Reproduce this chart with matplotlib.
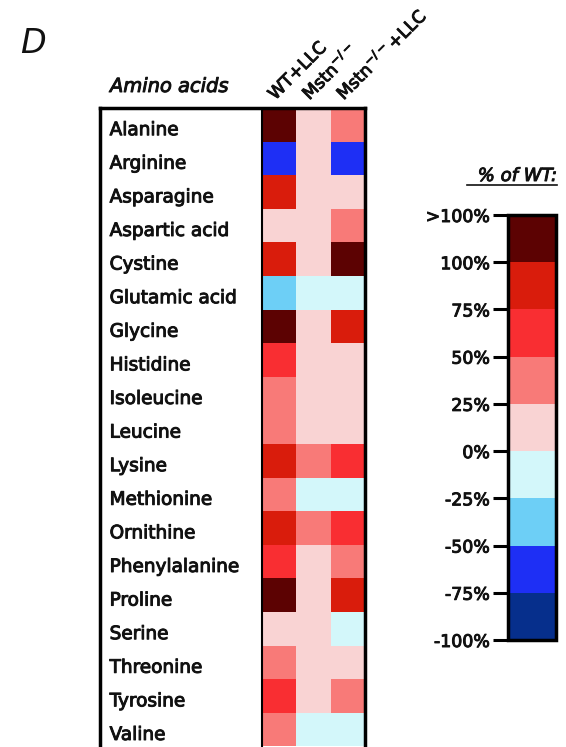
import numpy as np
import matplotlib
matplotlib.use("Agg")
import matplotlib.pyplot as plt
import matplotlib.patheffects as pe
from matplotlib.colors import ListedColormap, BoundaryNorm
from matplotlib.lines import Line2D

amino_acids = ["Alanine", "Arginine", "Asparagine", "Aspartic acid", "Cystine",
               "Glutamic acid", "Glycine", "Histidine", "Isoleucine", "Leucine",
               "Lysine", "Methionine", "Ornithine", "Phenylalanine", "Proline",
               "Serine", "Threonine", "Tyrosine", "Valine"]
groups = ["WT+LLC", r"Mstn$^{\mathregular{-/-}}$", r"Mstn$^{\mathregular{-/-}}$+LLC"]

# % of WT (binned reading of the heatmap colors)
wt_llc   = [110, -60, 85, 10, 85, -30, 110, 60, 35, 35, 85, 35, 85, 60, 110, 10, 35, 60, 35]
mstn     = [10, 10, 10, 10, 10, -10, 10, 10, 10, 10, 35, -10, 35, 10, 10, 10, 10, 10, -10]
mstn_llc = [35, -60, 10, 35, 110, -10, 85, 10, 10, 10, 60, -10, 60, 35, 85, -10, 10, 35, -10]

bounds = [-100, -75, -50, -25, 0, 25, 50, 75, 100, 125]
tick_labels = ["-100%", "-75%", "-50%", "-25%", "0%", "25%", "50%", "75%", "100%", ">100%"]
colors = ["#062f8c", "#1e2ff5", "#6dcff6", "#d3f7fa", "#f9d3d3",
          "#f87a78", "#f92e32", "#d91c0c", "#5c0202"]

W, H = 566, 747
fig = plt.figure(figsize=(W / 100, H / 100), dpi=100)
fig.patch.set_facecolor("white")

TXT = "#111111"
thick = [pe.withStroke(linewidth=0.7, foreground=TXT)]

def px(x0, y0, x1, y1):
    return [x0 / W, 1 - y1 / H, (x1 - x0) / W, (y1 - y0) / H]

cmap = ListedColormap(colors)
norm = BoundaryNorm(bounds, cmap.N)

data = np.array([wt_llc, mstn, mstn_llc]).T
n = len(amino_acids)

left, split, right = 100, 262, 365
colw = (right - split) / 3
top = 108
rowh = 33.6
ybot_lim = 19.5
ax = fig.add_axes(px(left, top, right, top + rowh * ybot_lim))
ax.pcolormesh(np.arange(4), np.arange(n + 1), data, cmap=cmap, norm=norm)
ax.set_xlim(-(split - left) / colw, 3)
ax.set_ylim(ybot_lim, 0)
ax.set_xticks([]); ax.set_yticks([])
for s in ax.spines.values():
    s.set_linewidth(2.5)
ax.axvline(0, color="black", lw=1.5)
for i, name in enumerate(amino_acids):
    ax.text(-(split - left) / colw + 0.28, i + 0.66, name, ha="left", va="center",
            fontsize=13.3, color=TXT, path_effects=thick)
for j, g in enumerate(groups):
    ax.text(j + 0.38, -0.22, g, rotation=45, rotation_mode="anchor",
            ha="left", va="baseline", fontsize=12.5, color=TXT, clip_on=False,
            path_effects=thick)

fig.text(110 / W, 1 - 92 / H, "Amino acids", fontsize=14, style="italic",
         ha="left", va="baseline", color=TXT, path_effects=thick)
fig.text(20 / W, 1 - 53 / H, "D", fontsize=24, style="italic", ha="left",
         va="baseline", color=TXT)

cax = fig.add_axes(px(508, 215, 556, 640))
sm = matplotlib.cm.ScalarMappable(cmap=cmap, norm=norm)
cb = fig.colorbar(sm, cax=cax, ticks=bounds, spacing="proportional")
cb.outline.set_linewidth(2.5)
cax.yaxis.set_ticks_position("left")
cax.yaxis.set_label_position("left")
cax.set_yticklabels(tick_labels)
cax.tick_params(axis="y", length=11, width=2.2, labelsize=12.5, pad=2,
                labelcolor=TXT)
for t in cax.get_yticklabels():
    t.set_path_effects(thick)

fig.text(557 / W, 1 - 181 / H, "% of WT:", fontsize=13, style="italic",
         ha="right", va="baseline", color=TXT, path_effects=thick)
fig.add_artist(Line2D([467 / W, 557 / W], [1 - 185 / H, 1 - 185 / H],
                      transform=fig.transFigure, color=TXT, lw=1.2))

fig.savefig("out.png", dpi=100, facecolor="white")
